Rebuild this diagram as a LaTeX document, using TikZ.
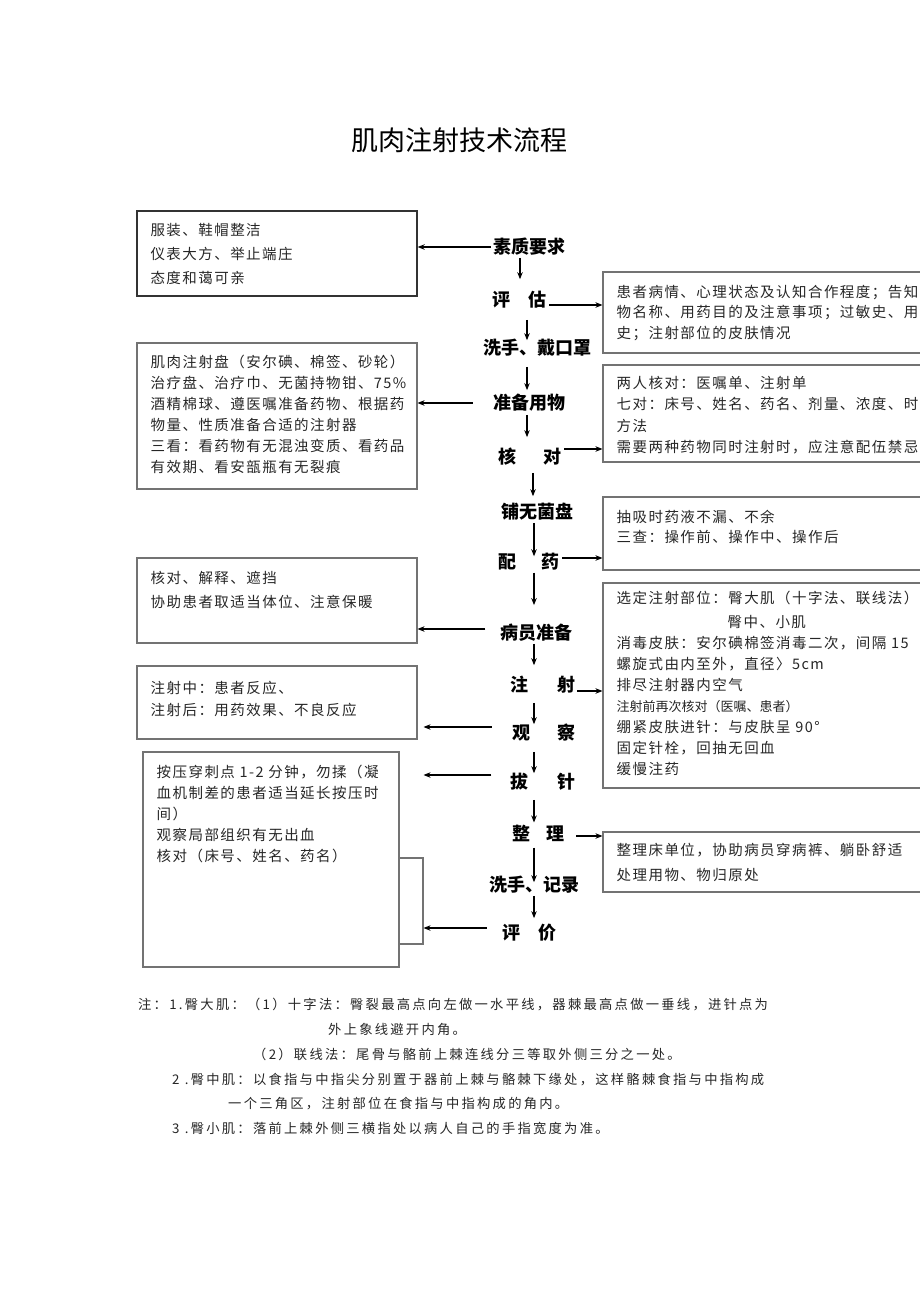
\documentclass[tikz,border=0pt]{standalone}
\usepackage{fontspec}
\usetikzlibrary{arrows.meta}
\newfontfamily\cjk{Noto Sans CJK SC}
\newfontfamily\cjkbody[LetterSpace=10]{Noto Sans CJK SC}
\newfontfamily\cjknote[LetterSpace=17]{Noto Sans CJK SC}
\newcommand\bodyfont[1]{\cjkbody\fontsize{14.5pt}{#1}\selectfont}

\begin{document}
\begin{tikzpicture}[x=1pt,y=-1pt,
  box/.style={draw=black!55,line width=1.1pt,minimum width=280pt,inner sep=0pt},
  rbox/.style={box,minimum width=332pt},
  txt/.style={anchor=north west,inner sep=0pt,align=left,text=black!85},
  lab/.style={inner sep=2pt,font=\cjk\bfseries\fontsize{18pt}{20pt}\selectfont},
  note/.style={anchor=west,inner sep=0pt,text=black!85,font=\cjknote\fontsize{13.3pt}{15pt}\selectfont},
  arr/.style={-{Stealth[length=7pt,width=5.5pt]},line width=1.1pt}]
  \useasboundingbox (0,0) rectangle (920,1301);
  \clip (0,0) rectangle (920,1301);
  \node[font=\cjk\fontsize{27pt}{30pt}\selectfont] (title) at (459.5,140) {肌肉注射技术流程};
  % steps of the procedure
  \node[lab] (sz) at (529,247) {素质要求};
  \node[lab] (pg) at (519.5,300) {评\hspace{19pt}估};
  \node[lab] (xs) at (537.5,348) {洗手、戴口罩};
  \node[lab] (zb) at (529,403) {准备用物};
  \node[lab] (hd) at (530,457) {核\hspace{28pt}对};
  \node[lab] (pu) at (537.5,512) {铺无菌盘};
  \node[lab] (py) at (529,562) {配\hspace{26pt}药};
  \node[lab] (by) at (536.5,633) {病员准备};
  \node[lab] (zs) at (542.5,685) {注\hspace{29pt}射};
  \node[lab] (gc) at (543.5,733) {观\hspace{27pt}察};
  \node[lab] (bz) at (543,782) {拔\hspace{29pt}针};
  \node[lab] (zl) at (538.5,833) {整\hspace{17pt}理};
  \node[lab] (xj) at (534,885) {洗手、记录};
  \node[lab] (pj) at (529.5,933) {评\hspace{19pt}价};
  % left boxes
  \node[box,draw=black!80,line width=1.4pt,minimum height=85pt] (L1) at (277,253.5) {};
  \node[txt,font=\bodyfont{24pt}] (L1t) at ([xshift=14pt,yshift=-12.5pt]L1.north west) {服装、鞋帽整洁\\仪表大方、举止端庄\\态度和蔼可亲};
  \node[box,minimum height=146pt] (L2) at (277,416) {};
  \node[txt,font=\bodyfont{21pt}] (L2t) at ([xshift=14pt,yshift=-12.5pt]L2.north west) {肌肉注射盘（安尔碘、棉签、砂轮）\\治疗盘、治疗巾、无菌持物钳、75\%\\酒精棉球、遵医嘱准备药物、根据药\\物量、性质准备合适的注射器\\三看：看药物有无混浊变质、看药品\\有效期、看安瓿瓶有无裂痕};
  \node[box,minimum height=85pt] (L3) at (277,600.5) {};
  \node[txt,font=\bodyfont{24pt}] (L3t) at ([xshift=14pt,yshift=-13.5pt]L3.north west) {核对、解释、遮挡\\协助患者取适当体位、注意保暖};
  \node[box,minimum height=73pt] (L4) at (277,702.5) {};
  \node[txt,font=\bodyfont{22pt}] (L4t) at ([xshift=14pt,yshift=-15.5pt]L4.north west) {注射中：患者反应、\\注射后：用药效果、不良反应};
  \node[box,minimum height=86pt] (L5b) at (283,901) {};
  \node[box,fill=white,minimum width=256pt,minimum height=215pt] (L5) at (271,859.5) {};
  \node[txt,font=\bodyfont{21pt}] (L5t) at ([xshift=14pt,yshift=-13.5pt]L5.north west) {按压穿刺点 1-2 分钟，勿揉（凝\\血机制差的患者适当延长按压时\\间）\\观察局部组织有无出血\\核对（床号、姓名、药名）};
  % right boxes
  \node[rbox,minimum height=81pt] (R1) at (769,312.5) {};
  \node[txt,font=\bodyfont{20.5pt}] (R1t) at ([xshift=14pt,yshift=-13.5pt]R1.north west) {患者病情、心理状态及认知合作程度；告知\\物名称、用药目的及注意事项；过敏史、用\\史；注射部位的皮肤情况};
  \node[rbox,minimum height=97pt] (R2) at (769,413.5) {};
  \node[txt,font=\bodyfont{21.5pt}] (R2t) at ([xshift=14pt,yshift=-11.5pt]R2.north west) {两人核对：医嘱单、注射单\\七对：床号、姓名、药名、剂量、浓度、时\\方法\\需要两种药物同时注射时，应注意配伍禁忌};
  \node[rbox,minimum height=73pt] (R3) at (769,533.5) {};
  \node[txt,font=\bodyfont{20pt}] (R3t) at ([xshift=14pt,yshift=-13.5pt]R3.north west) {抽吸时药液不漏、不余\\三查：操作前、操作中、操作后};
  \node[rbox,minimum height=205pt] (R4) at (769,685.5) {};
  \node[txt,font=\bodyfont{21pt}] (R4t) at ([xshift=14pt,yshift=-8.5pt]R4.north west) {选定注射部位：臀大肌（十字法、联线法）\\[3pt]\hspace*{111pt}臀中、小肌\\消毒皮肤：安尔碘棉签消毒二次，间隔 15\\螺旋式由内至外，直径〉5cm\\排尽注射器内空气\\{\cjk\fontsize{13pt}{21pt}\selectfont 注射前再次核对（医嘱、患者）}\\绷紧皮肤进针：与皮肤呈 90°\\固定针栓，回抽无回血\\缓慢注药};
  \node[rbox,minimum height=60pt] (R5) at (769,862) {};
  \node[txt,font=\bodyfont{25pt}] (R5t) at ([xshift=14pt,yshift=-11.5pt]R5.north west) {整理床单位，协助病员穿病裤、躺卧舒适\\处理用物、物归原处};
  % flow down the middle
  \foreach \a/\b/\x/\s/\e in {sz/pg/520/0/10, pg/xs/527/9/-3, xs/zb/527/8/2, zb/hd/527/1/9, hd/pu/533/5/5, pu/py/534/0/-5, py/by/534/0/17, by/zs/534/0/9, zs/gc/534/7/-2, gc/bz/534/8/-2, bz/zl/534/7/0, zl/xj/534/4/-8, xj/pj/534/0/4}
    \draw[arr,shorten <=\s pt,shorten >=\e pt] (\a.south -| \x,0) -- (\b.north -| \x,0);
  % side arrows
  \draw[arr] (sz.west) -- (sz.west -| L1.east);
  \draw[arr] ([yshift=-5pt]pg.east) -- ([yshift=-5pt]pg.east -| R1.west);
  \draw[arr,shorten <=18pt] (zb.west) -- (zb.west -| L2.east);
  \draw[arr] ([yshift=8pt]hd.east) -- ([yshift=8pt]hd.east -| R2.west);
  \draw[arr] ([yshift=4pt]py.east) -- ([yshift=4pt]py.east -| R3.west);
  \draw[arr,shorten <=13pt] ([yshift=4pt]by.west) -- ([yshift=4pt]by.west -| L3.east);
  \draw[arr] ([yshift=-6pt]zs.east) -- ([yshift=-6pt]zs.east -| R4.west);
  \draw[arr,shorten <=18pt,shorten >=6pt] ([yshift=6pt]gc.west) -- ([yshift=6pt]gc.west -| L4.east);
  \draw[arr,shorten <=17pt] ([yshift=7pt]bz.west) -- ([yshift=7pt]bz.west -| L5b.east);
  \draw[arr,shorten <=9pt] ([yshift=-3pt]zl.east) -- ([yshift=-3pt]zl.east -| R5.west);
  \draw[arr,shorten <=13pt] ([yshift=5pt]pj.west) -- ([yshift=5pt]pj.west -| L5b.east);
  % notes
  \node[note] (n1) at (138,1005) {注：1.臀大肌：（1）十字法：臀裂最高点向左做一水平线，器棘最高点做一垂线，进针点为};
  \node[note] (n2) at (328,1029) {外上象线避开内角。};
  \node[note] (n3) at (253,1054) {（2）联线法：尾骨与骼前上棘连线分三等取外侧三分之一处。};
  \node[note] (n4) at (172,1080) {2\ .臀中肌：以食指与中指尖分别置于器前上棘与骼棘下缘处，这样骼棘食指与中指构成};
  \node[note] (n5) at (228,1104) {一个三角区，注射部位在食指与中指构成的角内。};
  \node[note] (n6) at (172,1128) {3\ .臀小肌：落前上棘外侧三横指处以病人自己的手指宽度为准。};
\end{tikzpicture}
\end{document}
